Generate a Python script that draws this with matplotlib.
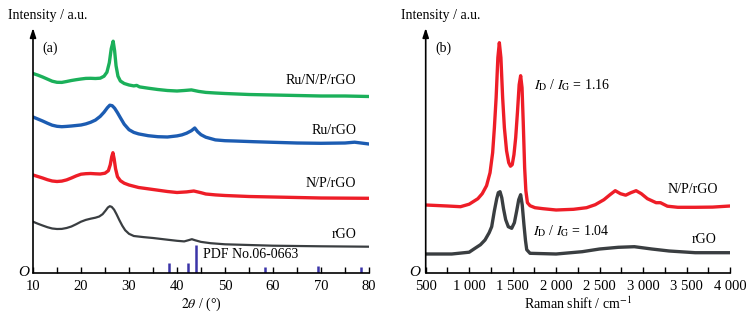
import matplotlib
matplotlib.use("Agg")
import matplotlib.pyplot as plt
from matplotlib.ticker import MultipleLocator, FixedLocator

plt.rcParams['font.family'] = ['Liberation Serif', 'DejaVu Serif']
plt.rcParams['mathtext.fontset'] = 'stix'

# ---------------- XRD data (heights in arbitrary units) ----------------
xrd_green_x = [10, 11, 12, 13, 14, 15, 16, 17, 18, 19, 20, 21, 22, 23, 24, 24.8, 25.4, 25.9, 26.3, 26.7, 27.0, 27.3, 27.7, 28.2, 29, 30, 31, 31.6, 32.2, 34, 36, 38, 40, 41.5, 43, 44.5, 46, 48, 50, 55, 60, 65, 70, 75, 80]
xrd_green_y = [199.2, 197.6, 195.7, 193.6, 191.5, 190.4, 190.3, 191.2, 192.2, 193.0, 193.7, 194.3, 194.4, 194.2, 194.5, 196.5, 200.5, 210.0, 224.0, 231.5, 222.0, 207.0, 196.5, 191.7, 189.2, 187.7, 186.8, 187.3, 185.8, 184.5, 183.2, 182.2, 181.7, 182.2, 182.8, 181.3, 180.3, 179.7, 179.2, 178.2, 177.7, 177.2, 176.7, 176.7, 176.2]

xrd_blue_x = [10, 11, 12, 13, 14, 15, 16, 17, 18, 19, 20, 21, 22, 23, 24, 24.8, 25.5, 26.0, 26.5, 27.0, 27.6, 28.2, 29, 30, 31, 32, 34, 36, 38, 40, 41, 42, 43, 43.7, 44.3, 45, 46, 48, 50, 52, 56, 60, 65, 70, 75, 77, 80]
xrd_blue_y = [155.7, 153.7, 151.7, 149.5, 147.5, 146.4, 146.0, 146.3, 146.7, 147.2, 147.7, 148.8, 150.4, 152.6, 156.3, 160.5, 165.0, 167.5, 167.0, 164.5, 160.0, 155.0, 148.5, 143.0, 140.3, 138.8, 137.0, 136.0, 135.7, 136.8, 137.8, 139.5, 142.0, 144.7, 141.0, 138.0, 135.5, 132.8, 132.0, 131.7, 131.0, 130.4, 129.7, 129.4, 129.7, 130.5, 128.7]

xrd_red_x = [10, 11, 12, 13, 14, 15, 16, 17, 18, 19, 20, 21, 22, 23, 24, 25, 25.7, 26.1, 26.4, 26.65, 26.9, 27.2, 27.6, 28.2, 29, 30, 32, 35, 38, 40, 42, 43.5, 45, 46, 48, 50, 55, 60, 65, 70, 80]
xrd_red_y = [97.7, 96.2, 94.7, 93.0, 91.7, 91.2, 91.6, 92.8, 94.7, 96.8, 98.5, 99.0, 99.2, 98.9, 98.7, 99.5, 102.0, 108.0, 116.0, 120.0, 114.0, 104.0, 96.0, 92.0, 89.5, 87.7, 85.2, 83.2, 81.2, 80.2, 80.8, 81.7, 80.0, 78.7, 77.8, 77.2, 76.2, 75.7, 75.2, 74.7, 74.4]

xrd_black_x = [10, 11, 12, 13, 14, 15, 16, 17, 18, 19, 20, 21, 22, 23, 23.8, 24.5, 25.1, 25.6, 26.0, 26.4, 26.9, 27.4, 28, 28.6, 29.2, 30, 31, 33, 35, 38, 40, 41.5, 42.4, 43.1, 43.8, 45, 47, 50, 55, 60, 70, 80]
xrd_black_y = [51.0, 49.0, 47.2, 45.5, 44.2, 43.7, 43.8, 44.7, 46.2, 48.5, 51.0, 52.8, 54.0, 55.0, 56.2, 58.5, 62.0, 65.2, 66.5, 65.8, 63.0, 58.5, 52.5, 47.0, 42.5, 38.9, 36.7, 35.6, 34.7, 33.0, 31.9, 31.3, 32.5, 33.5, 32.4, 30.8, 29.5, 28.4, 27.7, 27.0, 26.4, 26.0]

pdf_pos = [38.4, 42.2, 44.0, 58.3, 69.4, 78.4]
pdf_hgt = [9.4, 9.4, 27.7, 6.0, 6.5, 6.0]

# ---------------- Raman data ----------------
raman_red_x = [500, 750, 900, 1000, 1100, 1150, 1200, 1240, 1270, 1290, 1310, 1330, 1347, 1365, 1385, 1405, 1430, 1455, 1475, 1495, 1515, 1535, 1555, 1575, 1592, 1608, 1622, 1638, 1652, 1670, 1700, 1757, 1850, 2000, 2200, 2350, 2450, 2550, 2620, 2680, 2740, 2800, 2860, 2920, 2980, 3050, 3150, 3200, 3280, 3400, 3600, 3800, 4000]
raman_red_y = [67.7, 66.7, 66.0, 68.5, 74.0, 79.0, 87.0, 100.0, 120.0, 145.0, 175.0, 215.0, 230.0, 215.0, 175.0, 145.0, 122.0, 110.0, 106.5, 108.0, 118.0, 135.0, 160.0, 188.0, 197.0, 185.0, 150.0, 105.0, 82.0, 70.0, 67.0, 65.0, 64.0, 62.7, 63.4, 65.0, 68.0, 73.0, 78.0, 82.0, 79.0, 77.5, 80.0, 82.0, 79.0, 74.0, 70.0, 70.0, 66.5, 65.4, 65.4, 65.6, 66.7]

raman_black_x = [500, 800, 1000, 1067, 1130, 1182, 1230, 1259, 1290, 1317, 1335, 1355, 1375, 1395, 1420, 1450, 1489, 1520, 1547, 1570, 1592, 1610, 1630, 1648, 1662, 1700, 2000, 2300, 2500, 2715, 2900, 3100, 3300, 3600, 4000]
raman_black_y = [18.7, 18.7, 20.5, 24.4, 28.0, 32.7, 40.0, 46.0, 62.0, 74.0, 80.0, 81.0, 75.0, 64.0, 53.0, 46.0, 44.4, 50.0, 62.0, 73.0, 78.0, 68.0, 48.0, 32.0, 23.0, 19.4, 18.7, 21.0, 23.7, 25.4, 26.0, 23.7, 21.7, 20.0, 20.0]

xrd_ticks = [10, 20, 30, 40, 50, 60, 70, 80]
raman_ticks = [500, 1000, 1500, 2000, 2500, 3000, 3500, 4000]
raman_tick_labels = ["500", "1 000", "1 500", "2 000", "2 500", "3 000", "3 500", "4 000"]

C_GREEN = '#1bb05a'
C_BLUE = '#1c5cb2'
C_RED = '#ee1d27'
C_BLACK = '#3a3e41'
C_BAR = '#3b34a8'

W, H = 750, 316
fig = plt.figure(figsize=(7.5, 3.16), dpi=100)

def px_axes(x0, x1, ytop, ybot):
    return fig.add_axes([x0 / W, 1 - ybot / H, (x1 - x0) / W, (ybot - ytop) / H])

YMAX = 244.7

def style(ax):
    for s in ['top', 'right', 'left']:
        ax.spines[s].set_visible(False)
    ax.spines['bottom'].set_linewidth(1.2)
    ax.set_yticks([])
    ax.tick_params(axis='x', direction='in', length=4, width=1.0, pad=5, labelsize=10.5)
    ax.annotate('', xy=(0, 1.0), xytext=(0, 0), xycoords='axes fraction',
                arrowprops=dict(arrowstyle='-|>,head_length=0.55,head_width=0.18',
                                lw=1.2, color='black', shrinkA=0, shrinkB=0))
    ax.set_ylim(0, YMAX)
    ax.patch.set_alpha(0)

# ---------------- left panel ----------------
axL = px_axes(33, 369, 28, 272.7)
style(axL)
axL.set_xlim(10, 80)
axL.xaxis.set_major_locator(FixedLocator(xrd_ticks))
axL.xaxis.set_minor_locator(MultipleLocator(5))
axL.tick_params(axis='x', which='minor', direction='in', length=4, width=1.0)

axL.plot(xrd_green_x, xrd_green_y, color=C_GREEN, lw=2.4, solid_joinstyle='round')
axL.plot(xrd_blue_x, xrd_blue_y, color=C_BLUE, lw=2.4, solid_joinstyle='round')
axL.plot(xrd_red_x, xrd_red_y, color=C_RED, lw=2.4, solid_joinstyle='round')
axL.plot(xrd_black_x, xrd_black_y, color=C_BLACK, lw=1.6, solid_joinstyle='round')
axL.vlines(pdf_pos, 0, pdf_hgt, color=C_BAR, lw=1.8)

fs = 10
axL.text(12.0, 224.7, '(a)', fontsize=fs, va='center', ha='left')
axL.text(77.4, 192.0, 'Ru/N/P/rGO', fontsize=fs, va='center', ha='right')
axL.text(77.4, 142.7, 'Ru/rGO', fontsize=fs, va='center', ha='right')
axL.text(77.4, 89.4, 'N/P/rGO', fontsize=fs, va='center', ha='right')
axL.text(77.4, 37.7, 'rGO', fontsize=fs, va='center', ha='right')
axL.text(45.5, 17.7, 'PDF No.06-0663', fontsize=fs, va='center', ha='left')

# ---------------- right panel ----------------
axR = px_axes(425.7, 730, 28, 272.7)
style(axR)
axR.set_xlim(500, 4000)
axR.xaxis.set_major_locator(FixedLocator(raman_ticks))
axR.set_xticklabels(raman_tick_labels)
axR.xaxis.set_minor_locator(MultipleLocator(250))
axR.tick_params(axis='x', which='minor', direction='in', length=4, width=1.0)

axR.plot(raman_red_x, raman_red_y, color=C_RED, lw=2.4, solid_joinstyle='round')
axR.plot(raman_black_x, raman_black_y, color=C_BLACK, lw=2.4, solid_joinstyle='round')

axR.text(607, 224.7, '(b)', fontsize=fs, va='center', ha='left')
axR.text(1745, 187.7, r'$I_{\mathrm{D}}$ / $I_{\mathrm{G}}$ = 1.16', fontsize=fs, va='center', ha='left')
axR.text(1730, 41.7, r'$I_{\mathrm{D}}$ / $I_{\mathrm{G}}$ = 1.04', fontsize=fs, va='center', ha='left')
axR.text(3866, 82.7, 'N/P/rGO', fontsize=fs, va='center', ha='right')
axR.text(3847, 32.7, 'rGO', fontsize=fs, va='center', ha='right')

# ---------------- figure-level labels ----------------
def ftext(x, y, s, **kw):
    fig.text(x / W, 1 - y / H, s, **kw)

ftext(8, 16, 'Intensity / a.u.', fontsize=fs, va='center', ha='left')
ftext(401, 16, 'Intensity / a.u.', fontsize=fs, va='center', ha='left')
ftext(24, 273, 'O', fontsize=11, va='center', ha='center', style='italic')
ftext(415, 273, 'O', fontsize=11, va='center', ha='center', style='italic')
ftext(201, 304, r'$2\theta$ / (°)', fontsize=fs, va='center', ha='center')
ftext(578, 304, r'Raman shift / cm$^{-1}$', fontsize=fs, va='center', ha='center')

fig.savefig('out.png', dpi=100)
